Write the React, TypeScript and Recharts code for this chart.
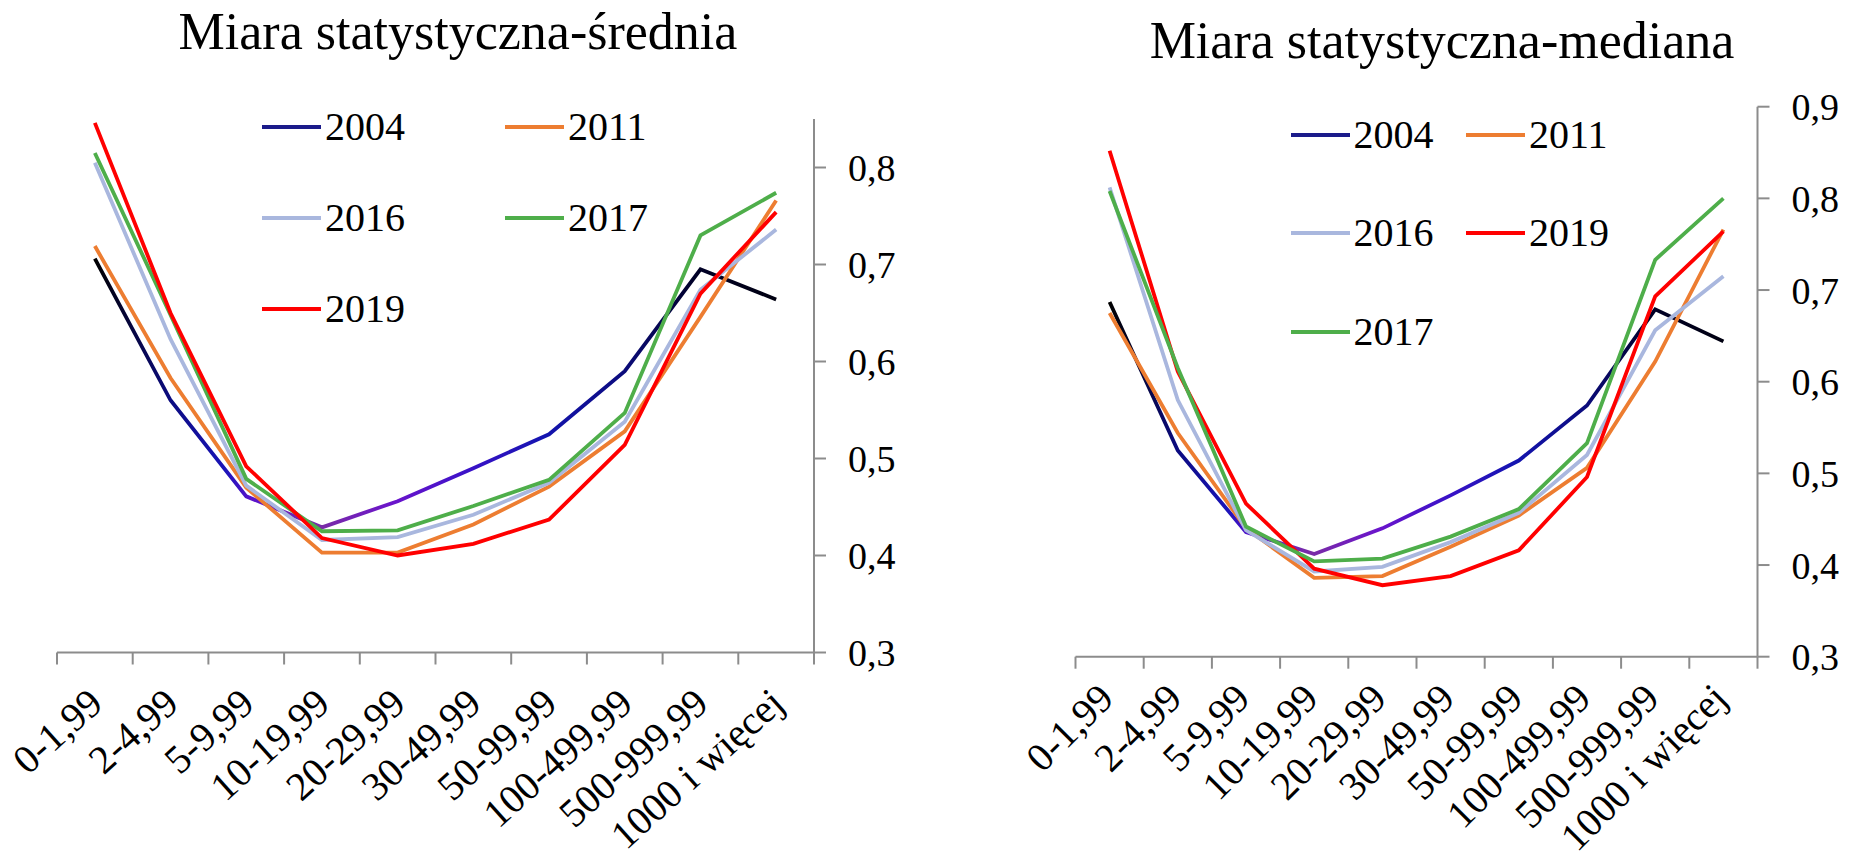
import React from 'react';
import { LineChart, Line, XAxis, YAxis, Legend } from 'recharts';

// kategorie wielkości (oś X) – wspólne dla obu wykresów
const categories = [
  '0-1,99', '2-4,99', '5-9,99', '10-19,99', '20-29,99',
  '30-49,99', '50-99,99', '100-499,99', '500-999,99', '1000 i więcej',
];

// Miara statystyczna – średnia
const mean2004 = [0.706, 0.56, 0.461, 0.429, 0.456, 0.49, 0.525, 0.59, 0.695, 0.664];
const mean2011 = [0.719, 0.583, 0.47, 0.403, 0.403, 0.432, 0.471, 0.528, 0.646, 0.766];
const mean2016 = [0.805, 0.623, 0.472, 0.416, 0.419, 0.442, 0.475, 0.538, 0.674, 0.736];
const mean2017 = [0.815, 0.648, 0.479, 0.425, 0.426, 0.451, 0.478, 0.547, 0.73, 0.774];
const mean2019 = [0.846, 0.65, 0.492, 0.418, 0.4, 0.412, 0.437, 0.514, 0.67, 0.754];

// Miara statystyczna – mediana
const med2004 = [0.687, 0.525, 0.436, 0.412, 0.44, 0.476, 0.514, 0.574, 0.679, 0.644];
const med2011 = [0.675, 0.544, 0.44, 0.386, 0.388, 0.42, 0.454, 0.506, 0.622, 0.766];
const med2016 = [0.812, 0.58, 0.438, 0.393, 0.398, 0.425, 0.457, 0.52, 0.656, 0.715];
const med2019 = [0.852, 0.611, 0.467, 0.396, 0.378, 0.388, 0.416, 0.496, 0.693, 0.764];
const med2017 = [0.808, 0.615, 0.442, 0.404, 0.407, 0.431, 0.461, 0.533, 0.733, 0.8];

const meanTicks = [0.3, 0.4, 0.5, 0.6, 0.7, 0.8];
const medTicks = [0.3, 0.4, 0.5, 0.6, 0.7, 0.8, 0.9];

// kolejność w legendzie (jak w oryginale)
const meanOrder = ['2004', '2011', '2016', '2017', '2019'];
const medOrder = ['2004', '2011', '2016', '2019', '2017'];

const FONT = "'Liberation Serif', 'Times New Roman', serif";
const AXIS = '#8c8c8c';
const LW = 3.8;

const colors: Record<string, string> = {
  '2004': '#1b1b8a',
  '2011': '#ED7D31',
  '2016': '#A9B7DE',
  '2017': '#4EAE4A',
  '2019': '#FF0000',
};

const buildRows = (series: Record<string, number[]>) =>
  categories.map((cat, i) => {
    const row: Record<string, string | number> = { cat };
    Object.keys(series).forEach(k => { row[k] = series[k][i]; });
    return row;
  });

const meanData = buildRows({ '2004': mean2004, '2011': mean2011, '2016': mean2016, '2017': mean2017, '2019': mean2019 });
const medData = buildRows({ '2004': med2004, '2011': med2011, '2016': med2016, '2019': med2019, '2017': med2017 });

const fmt = (v: number) => v.toFixed(1).replace('.', ',');

// etykiety osi X obrócone + znaczniki na granicach kategorii
const makeTick = (half: number, dx: number, dy: number, angle: number) => (props: any) => {
  const { x, y, payload, index } = props;
  const last = index === categories.length - 1;
  return (
    <g>
      <line x1={x - half} y1={y} x2={x - half} y2={y + 12} stroke={AXIS} strokeWidth={2} />
      {last && <line x1={x + half} y1={y} x2={x + half} y2={y + 12} stroke={AXIS} strokeWidth={2} />}
      <text
        className="serif-txt"
        transform={`translate(${x + dx},${y + dy}) rotate(${angle})`}
        textAnchor="end"
        fontSize={40}
        fill="#000"
      >
        {payload.value}
      </text>
    </g>
  );
};

const makeLegend = (order: string[], x0: number, colGap: number, y0: number, rowGap: number) => () => (
  <div style={{ position: 'relative', width: 0, height: 0 }}>
    {order.map((name, i) => (
      <div
        key={name}
        style={{
          position: 'absolute',
          left: x0 + (i % 2) * colGap,
          top: y0 + Math.floor(i / 2) * rowGap - 25,
          height: 50,
          display: 'flex',
          alignItems: 'center',
          whiteSpace: 'nowrap',
        }}
      >
        <div style={{ width: 59, height: 4, background: colors[name] }} />
        <span className="serif-txt" style={{ marginLeft: 4, fontSize: 40, lineHeight: '40px', color: '#000' }}>{name}</span>
      </div>
    ))}
  </div>
);

const Grad = ({ id }: { id: string }) => (
  <defs>
    <linearGradient id={id} x1="0" y1="0" x2="1" y2="0">
      <stop offset="0%" stopColor="#000000" />
      <stop offset="11%" stopColor="#0b0b80" />
      <stop offset="19%" stopColor="#1a14b8" />
      <stop offset="23%" stopColor="#5a12cc" />
      <stop offset="33%" stopColor="#7a2ca6" />
      <stop offset="44%" stopColor="#6a14cc" />
      <stop offset="55%" stopColor="#3a12c8" />
      <stop offset="66%" stopColor="#1414b0" />
      <stop offset="77%" stopColor="#0c0c80" />
      <stop offset="88%" stopColor="#000028" />
      <stop offset="100%" stopColor="#000010" />
    </linearGradient>
  </defs>
);

const titleStyle = (cx: number, top: number): React.CSSProperties => ({
  position: 'absolute',
  left: cx - 450,
  width: 900,
  top,
  textAlign: 'center',
  fontSize: 52,
  lineHeight: '52px',
  color: '#000',
  whiteSpace: 'nowrap',
});

const yTick = { fill: '#000', fontSize: 38, className: 'serif-txt' };
const axisLine = { stroke: AXIS, strokeWidth: 2 };

const css = `
  .chart-root, .chart-root text, .chart-root span, .chart-root div, .serif-txt {
    font-family: ${FONT} !important;
  }
`;

export default function App() {
  return (
    <div className="chart-root" style={{ position: 'absolute', left: 0, top: 0, width: 1849, height: 858, background: '#fff', overflow: 'hidden', fontFamily: FONT }}>
      <style>{css}</style>
      <div style={{ position: 'absolute', left: 0, top: 0 }}>
        <LineChart width={924} height={858} data={meanData} margin={{ top: 119, right: 0, bottom: 0, left: 57 }}>
          <Grad id="g2004mean" />
          <XAxis
            dataKey="cat"
            interval={0}
            height={205.5}
            padding={{ left: 37.85, right: 37.85 }}
            axisLine={axisLine}
            tickLine={false}
            tickSize={0}
            tickMargin={0}
            tick={makeTick(37.85, 10, 54, -42)}
          />
          <YAxis
            orientation="right"
            width={110}
            domain={[0.3, 0.85]}
            ticks={meanTicks}
            tickFormatter={fmt}
            axisLine={axisLine}
            tickLine={axisLine}
            tickSize={12}
            tickMargin={22}
            tick={yTick}
          />
          <Legend
            layout="horizontal"
            verticalAlign="middle"
            align="center"
            wrapperStyle={{ left: 0, top: 0, width: 0, height: 0 }}
            content={makeLegend(meanOrder, 262, 243, 127, 91)}
          />
          <Line name="2004" dataKey="2004" stroke="url(#g2004mean)" strokeWidth={LW} dot={false} isAnimationActive={false} />
          <Line name="2011" dataKey="2011" stroke={colors['2011']} strokeWidth={LW} dot={false} isAnimationActive={false} />
          <Line name="2016" dataKey="2016" stroke={colors['2016']} strokeWidth={LW} dot={false} isAnimationActive={false} />
          <Line name="2017" dataKey="2017" stroke={colors['2017']} strokeWidth={LW} dot={false} isAnimationActive={false} />
          <Line name="2019" dataKey="2019" stroke={colors['2019']} strokeWidth={LW} dot={false} isAnimationActive={false} />
        </LineChart>
      </div>

      <div style={{ position: 'absolute', left: 924, top: 0 }}>
        <LineChart width={925} height={858} data={medData} margin={{ top: 106.7, right: 0, bottom: 0, left: 151.5 }}>
          <Grad id="g2004med" />
          <XAxis
            dataKey="cat"
            interval={0}
            height={201.3}
            padding={{ left: 34.1, right: 34.1 }}
            axisLine={axisLine}
            tickLine={false}
            tickSize={0}
            tickMargin={0}
            tick={makeTick(34.1, 6, 44, -45)}
          />
          <YAxis
            orientation="right"
            width={91.5}
            domain={[0.3, 0.9]}
            ticks={medTicks}
            tickFormatter={fmt}
            axisLine={axisLine}
            tickLine={axisLine}
            tickSize={12}
            tickMargin={22}
            tick={yTick}
          />
          <Legend
            layout="horizontal"
            verticalAlign="middle"
            align="center"
            wrapperStyle={{ left: 0, top: 0, width: 0, height: 0 }}
            content={makeLegend(medOrder, 366.6, 175.4, 135, 98.3)}
          />
          <Line name="2004" dataKey="2004" stroke="url(#g2004med)" strokeWidth={LW} dot={false} isAnimationActive={false} />
          <Line name="2011" dataKey="2011" stroke={colors['2011']} strokeWidth={LW} dot={false} isAnimationActive={false} />
          <Line name="2016" dataKey="2016" stroke={colors['2016']} strokeWidth={LW} dot={false} isAnimationActive={false} />
          <Line name="2019" dataKey="2019" stroke={colors['2019']} strokeWidth={LW} dot={false} isAnimationActive={false} />
          <Line name="2017" dataKey="2017" stroke={colors['2017']} strokeWidth={LW} dot={false} isAnimationActive={false} />
        </LineChart>
      </div>

      <div style={titleStyle(458, 5.5)}>Miara statystyczna-średnia</div>
      <div style={titleStyle(1442, 14.5)}>Miara statystyczna-mediana</div>
    </div>
  );
}
